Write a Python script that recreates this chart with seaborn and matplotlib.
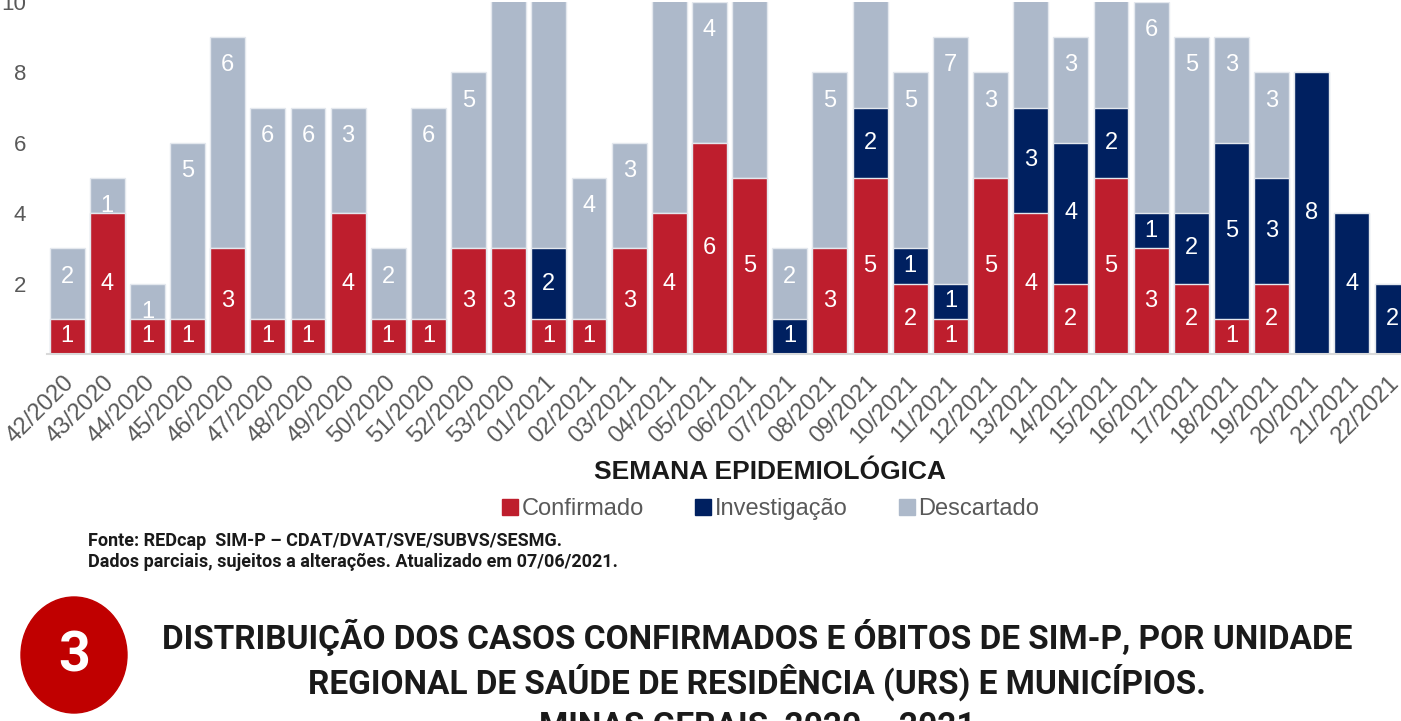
import pandas as pd
import seaborn as sns
import matplotlib.pyplot as plt
import matplotlib.transforms as mtransforms
from matplotlib.patches import Ellipse
from matplotlib.lines import Line2D

# Epidemiological weeks and case counts (SIM-P, Minas Gerais)
weeks = ['42/2020', '43/2020', '44/2020', '45/2020', '46/2020', '47/2020', '48/2020',
         '49/2020', '50/2020', '51/2020', '52/2020', '53/2020', '01/2021', '02/2021',
         '03/2021', '04/2021', '05/2021', '06/2021', '07/2021', '08/2021', '09/2021',
         '10/2021', '11/2021', '12/2021', '13/2021', '14/2021', '15/2021', '16/2021',
         '17/2021', '18/2021', '19/2021', '20/2021', '21/2021', '22/2021']
confirmado = [1, 4, 1, 1, 3, 1, 1, 4, 1, 1, 3, 3, 1, 1, 3, 4, 6, 5, 0, 3, 5,
              2, 1, 5, 4, 2, 5, 3, 2, 1, 2, 0, 0, 0]
investigacao = [0, 0, 0, 0, 0, 0, 0, 0, 0, 0, 0, 0, 2, 0, 0, 0, 0, 0, 1, 0, 2,
                1, 1, 0, 3, 4, 2, 1, 2, 5, 3, 8, 4, 2]
descartado = [2, 1, 1, 5, 6, 6, 6, 3, 2, 6, 5, 9, 8, 4, 3, 7, 4, 7, 2, 5, 5,
              5, 7, 3, 4, 3, 5, 6, 5, 3, 3, 0, 0, 0]

c_red = '#BE1E2D'
c_navy = '#002060'
c_gray = '#ADB9CA'

df = pd.DataFrame({'semana': weeks, 'conf': confirmado,
                   'inv': investigacao, 'desc': descartado})
df['conf_inv'] = df['conf'] + df['inv']
df['total'] = df['conf_inv'] + df['desc']

sns.set_theme(style='white')
plt.rcParams['font.family'] = ['Liberation Sans', 'DejaVu Sans']

fig = plt.figure(figsize=(14.01, 7.21), dpi=100)
ax = fig.add_axes([47 / 1401, 1 - 354 / 721, 34 * 40.15 / 1401, 352 / 721])

# stacked bars drawn as cumulative totals, back to front
bar_kw = dict(x='semana', order=weeks, width=0.87, saturation=1,
              edgecolor='#E4E8EE', linewidth=1, ax=ax)
sns.barplot(data=df, y='total', color=c_gray, **bar_kw)
sns.barplot(data=df, y='conf_inv', color=c_navy, **bar_kw)
sns.barplot(data=df, y='conf', color=c_red, **bar_kw)

# data labels
lab_kw = dict(ha='center', va='center', color='white', fontsize=17)
for i, row in df.iterrows():
    if row['conf'] > 0:
        ax.text(i, row['conf'] / 2, str(row['conf']), **lab_kw)
    if row['inv'] > 0:
        ax.text(i, row['conf'] + row['inv'] / 2, str(row['inv']), **lab_kw)
    if row['desc'] > 0:
        ax.text(i, row['total'] - 0.8, str(row['desc']), **lab_kw)

ax.set_xlim(-0.5, len(weeks) - 0.5)
ax.set_ylim(0, 10)
ax.set_yticks([2, 4, 6, 8, 10])
ax.tick_params(axis='y', length=0, pad=15, labelsize=16, labelcolor='#595959')
ax.tick_params(axis='x', length=0, pad=4, labelsize=17, labelcolor='#595959')
ax.set_xticks(range(len(weeks)))
ax.set_xticklabels(weeks, rotation=45, ha='right', rotation_mode='anchor')
shift = mtransforms.ScaledTranslation(-4 / 100, -12 / 100, fig.dpi_scale_trans)
for lbl in ax.get_xticklabels():
    lbl.set_transform(lbl.get_transform() + shift)
ax.set_xlabel('')
ax.set_ylabel('')
for s in ['top', 'right', 'left']:
    ax.spines[s].set_visible(False)
ax.spines['bottom'].set_color('#D9D9D9')
ax.spines['bottom'].set_linewidth(1.5)

fig.text(770 / 1401, 1 - 472 / 721, 'SEMANA EPIDEMIOLÓGICA', ha='center', va='center',
         fontsize=19, fontweight='bold', color='#1A1A1A')

handles = [Line2D([], [], marker='s', linestyle='', markersize=11, color=c)
           for c in [c_red, c_navy, c_gray]]
fig.legend(handles, ['Confirmado', 'Investigação', 'Descartado'],
           loc='center', bbox_to_anchor=(770 / 1401, 1 - 509 / 721), ncol=3,
           frameon=False, fontsize=17, handletextpad=0.1, columnspacing=2.1,
           handlelength=0.8, labelcolor='#595959')

foot_font = ['Roboto', 'DejaVu Sans']
fig.text(88 / 1401, 1 - 541 / 721, 'Fonte: REDcap  SIM-P – CDAT/DVAT/SVE/SUBVS/SESMG.',
         ha='left', va='center', fontsize=13, fontweight='bold', family=foot_font,
         color='#1A1A1A')
fig.text(88 / 1401, 1 - 562 / 721, 'Dados parciais, sujeitos a alterações. Atualizado em 07/06/2021.',
         ha='left', va='center', fontsize=13, fontweight='bold', family=foot_font,
         color='#1A1A1A')

# section number badge
fig.patches.append(Ellipse((74 / 1401, 1 - 655 / 721), 106 / 1401, 116 / 721,
                           transform=fig.transFigure, color='#C00000', zorder=1))
fig.text(74 / 1401, 1 - 657 / 721, '3', ha='center', va='center', fontsize=40,
         fontweight='bold', color='white', family=foot_font)

title_lines = ['DISTRIBUIÇÃO DOS CASOS CONFIRMADOS E ÓBITOS DE SIM-P, POR UNIDADE',
               'REGIONAL DE SAÚDE DE RESIDÊNCIA (URS) E MUNICÍPIOS.',
               'MINAS GERAIS, 2020 – 2021']
for k, line in enumerate(title_lines):
    fig.text(757 / 1401, 1 - (637 + 45 * k) / 721, line, ha='center', va='center',
             fontsize=24, fontweight='bold', family=foot_font, color='#1A1A1A')

fig.savefig('out.png', dpi=100)
